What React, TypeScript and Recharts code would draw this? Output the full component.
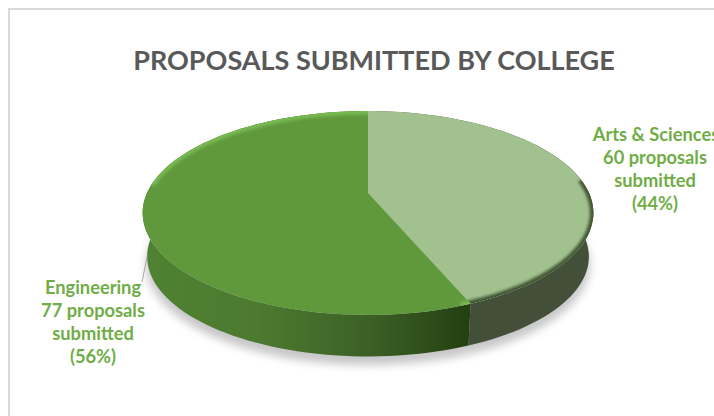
import { Pie, PieChart } from 'recharts'

const colleges = ['Arts & Sciences', 'Engineering']
const proposals = [60, 77]
const faceColors = ['#A1C28F', '#5F993C']
const wallFills = ['#434F38', 'url(#wallDark)']
const rimColors = ['#3F5533', '#78BA52']
// rim angles that carry the bevel, one pair per slice
const rimStart = [8, 175]
const rimEnd = [-125, -70]

const chartData = colleges.map((name, i) => ({
  name,
  value: proposals[i],
  face: faceColors[i],
  wall: wallFills[i],
  rim: rimColors[i],
  rimFrom: rimStart[i],
  rimTo: rimEnd[i],
}))

const total = proposals.reduce((a, b) => a + b, 0)

const WIDTH = 714
const HEIGHT = 416
const CX = 368
const CY = 193
const TILT = 0.196
const SCALE_X = 221
const SCALE_Y = 98
const DEPTH = 44

// tilted disc: a point on the unit circle seen in perspective
function project(cx: number, cy: number, angle: number, k = 1, dy = 0) {
  const rad = (angle * Math.PI) / 180
  const u = Math.cos(rad)
  const v = -Math.sin(rad)
  const w = 1 - TILT * v
  return [cx + (k * SCALE_X * u) / w, cy + dy + (k * SCALE_Y * v) / w]
}

function arcPoints(cx: number, cy: number, from: number, to: number, k = 1, dy = 0) {
  const steps = Math.max(2, Math.ceil(Math.abs(to - from) / 2))
  const pts: number[][] = []
  for (let i = 0; i <= steps; i++) {
    pts.push(project(cx, cy, from + ((to - from) * i) / steps, k, dy))
  }
  return pts
}

const toPath = (pts: number[][]) =>
  pts.map((p, i) => `${i ? 'L' : 'M'}${p[0].toFixed(1)} ${p[1].toFixed(1)}`).join(' ')

function ShadowSlice(props: any) {
  const { cx, cy, startAngle, endAngle } = props
  const pts = arcPoints(cx, cy, startAngle, endAngle, 0.985, DEPTH + 8)
  return <path d={`${toPath(pts)} L${cx} ${cy + DEPTH + 8} Z`} fill="#000" fillOpacity={0.22} filter="url(#softShadow)" />
}

function WallSlice(props: any) {
  const { cx, cy, startAngle, endAngle, payload } = props
  const top = arcPoints(cx, cy, startAngle, endAngle)
  const bottom = arcPoints(cx, cy, endAngle, startAngle, 0.98, DEPTH)
  return <path d={`${toPath(top)} ${toPath(bottom).replace('M', 'L')} Z`} fill={payload.wall} />
}

function FaceSlice(props: any) {
  const { cx, cy, startAngle, endAngle, payload, index } = props
  const outline = `${toPath(arcPoints(cx, cy, startAngle, endAngle))} L${cx} ${cy} Z`
  const clipId = `faceClip${index}`
  return (
    <g>
      <clipPath id={clipId}>
        <path d={outline} />
      </clipPath>
      <path d={outline} fill={payload.face} />
      <g clipPath={`url(#${clipId})`}>
        <path
          d={toPath(arcPoints(cx, cy, payload.rimFrom, payload.rimTo))}
          fill="none"
          stroke={payload.rim}
          strokeWidth={7}
          filter="url(#softRim)"
        />
      </g>
    </g>
  )
}

const labelLines = (i: number) => [
  colleges[i],
  `${proposals[i]} proposals`,
  'submitted',
  `(${Math.round((proposals[i] / total) * 100)}%)`,
]

const labelCenterX = [656, 93]
const labelFirstBaseline = [141, 294]

function SliceLabel({ index }: any) {
  return (
    <text
      textAnchor="middle"
      fontFamily="Lato, sans-serif"
      fontWeight={700}
      fontSize={18.3}
      fill="#70AD47"
    >
      {labelLines(index).map((line, j) => (
        <tspan key={j} x={index === 0 && j > 0 ? labelCenterX[index] - 1 : labelCenterX[index]} y={labelFirstBaseline[index] + j * 23}>
          {line}
        </tspan>
      ))}
    </text>
  )
}

export default function App() {
  return (
    <div style={{ position: 'absolute', left: 0, top: 0, width: WIDTH, height: HEIGHT, overflow: 'hidden', background: '#fff' }}>
      {/* chart frame, open on the right and bottom */}
      <div style={{ position: 'absolute', left: 8, top: 8, width: WIDTH, height: HEIGHT, border: '2px solid #D9D9D9' }} />
      <div
        style={{
          position: 'absolute',
          left: 0,
          top: 41,
          width: 748,
          textAlign: 'center',
          fontFamily: 'Lato, sans-serif',
          fontWeight: 700,
          fontSize: 27,
          lineHeight: '38px',
          color: '#595959',
          whiteSpace: 'nowrap',
        }}
      >
        PROPOSALS SUBMITTED BY COLLEGE
      </div>
      <PieChart width={WIDTH} height={HEIGHT} margin={{ top: 0, right: 0, bottom: 0, left: 0 }} style={{ position: 'absolute', left: 0, top: 0 }}>
        <defs>
          <linearGradient id="wallDark" gradientUnits="userSpaceOnUse" x1="143" y1="0" x2="470" y2="0">
            <stop offset="0%" stopColor="#4F8232" />
            <stop offset="35%" stopColor="#4C7A2F" />
            <stop offset="70%" stopColor="#3B5F26" />
            <stop offset="90%" stopColor="#2B4B18" />
            <stop offset="100%" stopColor="#233F10" />
          </linearGradient>
          <filter id="softShadow" x="-10%" y="-10%" width="120%" height="120%">
            <feGaussianBlur stdDeviation="4" />
          </filter>
          <filter id="softRim" x="-10%" y="-10%" width="120%" height="120%">
            <feGaussianBlur stdDeviation="1.6" />
          </filter>
        </defs>
        <Pie data={chartData} dataKey="value" nameKey="name" cx={CX} cy={CY} outerRadius={100} startAngle={90} endAngle={-270} stroke="none" shape={ShadowSlice} isAnimationActive={false} />
        <Pie data={chartData} dataKey="value" nameKey="name" cx={CX} cy={CY} outerRadius={100} startAngle={90} endAngle={-270} stroke="none" shape={WallSlice} isAnimationActive={false} />
        <Pie data={chartData} dataKey="value" nameKey="name" cx={CX} cy={CY} outerRadius={100} startAngle={90} endAngle={-270} stroke="none" shape={FaceSlice} label={SliceLabel} labelLine={false} isAnimationActive={false} />
      </PieChart>
      {/* leader line from the Engineering label to the rim */}
      <svg width={WIDTH} height={HEIGHT} style={{ position: 'absolute', left: 0, top: 0, pointerEvents: 'none' }}>
        <line x1={147} y1={257} x2={142} y2={282} stroke="#A6A6A6" strokeWidth={1} />
      </svg>
    </div>
  )
}
